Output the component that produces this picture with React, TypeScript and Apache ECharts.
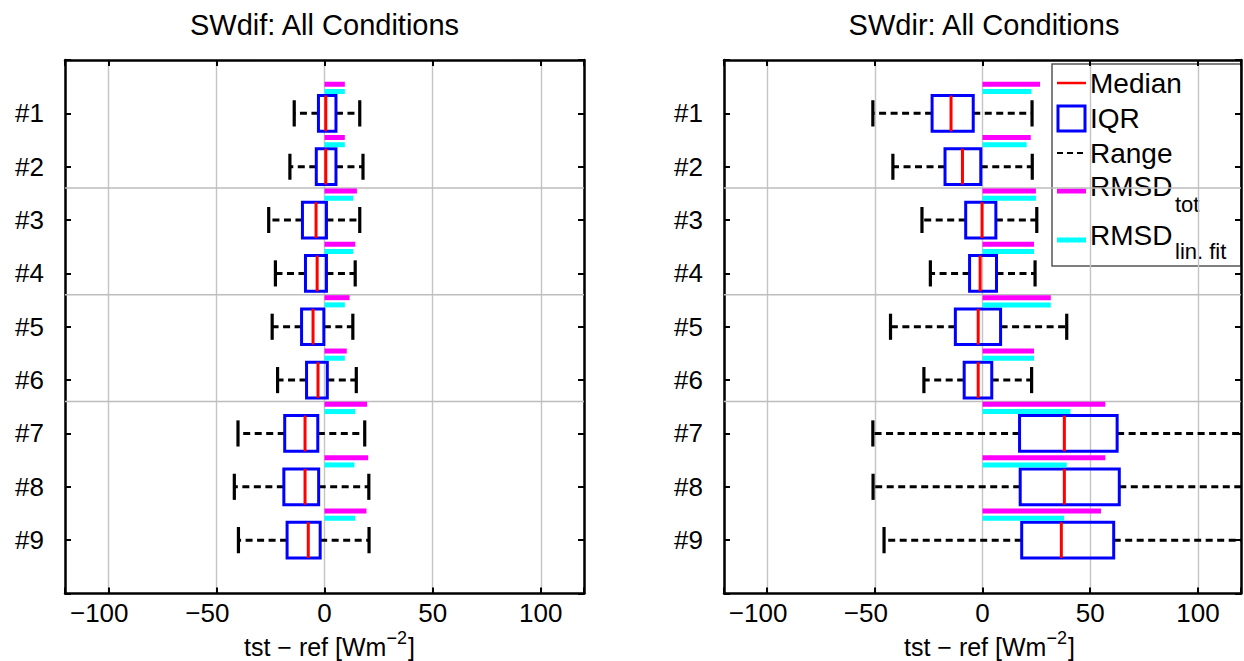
import React, { useEffect, useRef } from 'react';
import * as echarts from 'echarts';

// ---------- data ----------
const rowLabels = ['#1', '#2', '#3', '#4', '#5', '#6', '#7', '#8', '#9'];
const groupSeparators = [2.4, 4.4, 6.4];
const panelTitles = ['SWdif: All Conditions', 'SWdir: All Conditions'];

// SWdif panel
const difMin = [-14, -16, -25.8, -22.7, -24.2, -21.7, -40, -41.7, -39.8];
const difQ1 = [-2.8, -3.8, -10.2, -8.8, -10.6, -8.3, -18.4, -18.8, -17.3];
const difMedian = [0.6, 0.6, -3.9, -3.4, -5.3, -3, -9, -9, -7.5];
const difQ3 = [5.3, 5.3, 0.9, 0.9, -0.3, 1.3, -3.1, -2.7, -2];
const difMax = [16.3, 17.8, 16.3, 14.2, 13.1, 14.7, 18.6, 20.5, 20.6];
const difRmsdTot = [9.4, 9.4, 15, 14.2, 11.6, 10.3, 19.7, 20.2, 19.4];
const difRmsdLin = [9.4, 9.4, 13.3, 13.3, 9.4, 9.4, 14.2, 13.8, 14.2];

// SWdir panel
const dirMin = [-50.9, -41.6, -28.1, -24.2, -42.7, -27.2, -50.9, -50.8, -45.7];
const dirQ1 = [-23.4, -17.4, -7.8, -6, -12.6, -8.5, 17.2, 17.5, 18.2];
const dirMedian = [-14.6, -9.3, -0.2, -1.1, -2, -2, 38, 38, 36.6];
const dirQ3 = [-4.3, -0.8, 6.2, 6.5, 8.4, 4.3, 62.5, 63.5, 60.9];
const dirMax = [23, 23.1, 25.2, 24.4, 39.1, 22.8, 140, 140, 140];
const dirRmsdTot = [26.7, 22.4, 24.8, 23.9, 31.7, 23.9, 57, 57, 55];
const dirRmsdLin = [22.7, 20.5, 24.8, 23.9, 31.7, 23.9, 40.8, 39.1, 37.9];

const FONT = 'Liberation Sans, Arial, Helvetica, sans-serif';

function buildRows(mn: number[], q1: number[], md: number[], q3: number[], mx: number[], tot: number[], lin: number[]) {
  return rowLabels.map((_, i) => [i + 1, mn[i], q1[i], md[i], q3[i], mx[i], tot[i], lin[i]]);
}

function renderBox(params: any, api: any) {
  const y = api.value(0);
  const vMin = api.value(1);
  const vQ1 = api.value(2);
  const vMed = api.value(3);
  const vQ3 = api.value(4);
  const vMax = api.value(5);
  const vTot = api.value(6);
  const vLin = api.value(7);
  const unit = api.size([0, 1])[1];
  const cy = api.coord([0, y])[1];
  const x0 = api.coord([0, y])[0];
  const xMin = api.coord([vMin, y])[0];
  const xQ1 = api.coord([vQ1, y])[0];
  const xMed = api.coord([vMed, y])[0];
  const xQ3 = api.coord([vQ3, y])[0];
  const xMax = api.coord([vMax, y])[0];
  const xTot = api.coord([vTot, y])[0];
  const xLin = api.coord([vLin, y])[0];
  const boxH = unit * 0.335;
  const capH = unit * 0.245;
  const whisker = { stroke: '#000', lineWidth: 3, lineDash: [7, 4.5], fill: null };
  const cap = { stroke: '#000', lineWidth: 3.2, fill: null };
  return {
    type: 'group',
    children: [
      { type: 'line', shape: { x1: xQ1, y1: cy, x2: xMin, y2: cy }, style: whisker },
      { type: 'line', shape: { x1: xQ3, y1: cy, x2: xMax, y2: cy }, style: whisker },
      { type: 'line', shape: { x1: xMin, y1: cy - capH, x2: xMin, y2: cy + capH }, style: cap },
      { type: 'line', shape: { x1: xMax, y1: cy - capH, x2: xMax, y2: cy + capH }, style: cap },
      {
        type: 'rect',
        shape: { x: xQ1, y: cy - boxH, width: xQ3 - xQ1, height: 2 * boxH },
        style: { fill: 'none', stroke: '#0000ff', lineWidth: 3 },
      },
      { type: 'line', shape: { x1: xMed, y1: cy - boxH, x2: xMed, y2: cy + boxH }, style: { stroke: '#ff0000', lineWidth: 3 } },
      {
        type: 'rect',
        shape: { x: x0, y: cy - unit * 0.545 - 2.5, width: xTot - x0, height: 5 },
        style: { fill: '#ff00ff' },
      },
      {
        type: 'rect',
        shape: { x: x0, y: cy - unit * 0.41 - 2.5, width: xLin - x0, height: 5 },
        style: { fill: '#00ffff' },
      },
    ],
  };
}

function renderSeparator(params: any, api: any) {
  const cs = params.coordSys;
  const y = api.coord([0, api.value(1)])[1];
  return {
    type: 'line',
    shape: { x1: cs.x, y1: y, x2: cs.x + cs.width, y2: y },
    style: { stroke: '#bdbdbd', lineWidth: 1.5 },
  };
}

const axisLine = { show: true, onZero: false, lineStyle: { color: '#000', width: 2.5 } };
const axisTick = { show: true, inside: true, length: 6, lineStyle: { color: '#000', width: 2 } };

function xLabelFormatter(v: number) {
  if (Math.abs(v % 50) > 1e-9 || Math.abs(v) > 110) return '';
  if (v < 0) return '{neg|\u2212' + Math.abs(v) + '}';
  return '{pos|' + v + '}';
}

function makeXAxes(gridIndex: number) {
  return [
    {
      type: 'value',
      gridIndex,
      position: 'bottom',
      min: -120,
      max: 120,
      axisLine,
      axisTick,
      axisLabel: {
        show: true,
        margin: 6,
        formatter: xLabelFormatter,
        rich: {
          neg: { fontSize: 26, fontFamily: FONT, color: '#000', padding: [0, 18, 0, 0] },
          pos: { fontSize: 26, fontFamily: FONT, color: '#000' },
        },
      },
      splitLine: { show: true, lineStyle: { color: '#c4c4c4', width: 1.4 } },
    },
    {
      type: 'value',
      gridIndex,
      position: 'top',
      min: -120,
      max: 120,
      axisLine,
      axisTick,
      axisLabel: { show: false },
      splitLine: { show: false },
    },
  ];
}

function makeYAxes(gridIndex: number) {
  return [
    {
      type: 'value',
      gridIndex,
      position: 'left',
      min: 0,
      max: 10,
      interval: 1,
      inverse: true,
      axisLine,
      axisTick,
      axisLabel: {
        show: true,
        margin: 21,
        fontSize: 26,
        fontFamily: FONT,
        color: '#000',
        formatter: (v: number) => (v >= 1 && v <= 9 ? rowLabels[v - 1] : ''),
      },
      splitLine: { show: false },
    },
    {
      type: 'value',
      gridIndex,
      position: 'right',
      min: 0,
      max: 10,
      interval: 1,
      inverse: true,
      axisLine,
      axisTick,
      axisLabel: { show: false },
      splitLine: { show: false },
    },
  ];
}

function axisNameTexts(startX: number) {
  return [
    { type: 'text', x: startX, y: 647, style: { text: 'tst \u2212 ref [Wm', fontSize: 25, fontFamily: FONT, fill: '#000', align: 'left', verticalAlign: 'middle' } },
    { type: 'text', x: startX + 142.5, y: 638, style: { text: '\u22122', fontSize: 18, fontFamily: FONT, fill: '#000', align: 'left', verticalAlign: 'middle' } },
    { type: 'text', x: startX + 164, y: 647, style: { text: ']', fontSize: 25, fontFamily: FONT, fill: '#000', align: 'left', verticalAlign: 'middle' } },
  ];
}

function legendElements() {
  const lx1 = 1057;
  const lx2 = 1086;
  const tx = 1090;
  const txt = (text: string, y: number, size = 28, x = tx) => ({
    type: 'text',
    x,
    y,
    style: { text, fontSize: size, fontFamily: FONT, fill: '#000', align: 'left', verticalAlign: 'middle' },
  });
  return [
    { type: 'rect', shape: { x: 1052, y: 64, width: 189, height: 202 }, style: { fill: '#fff', stroke: '#555', lineWidth: 1.5 } },
    { type: 'line', shape: { x1: lx1, y1: 83, x2: lx2, y2: 83 }, style: { stroke: '#ff0000', lineWidth: 2.5 } },
    txt('Median', 83),
    { type: 'rect', shape: { x: 1058, y: 106, width: 27, height: 25 }, style: { fill: 'none', stroke: '#0000ff', lineWidth: 3 } },
    txt('IQR', 118),
    { type: 'line', shape: { x1: lx1, y1: 153, x2: lx2, y2: 153 }, style: { stroke: '#000', lineWidth: 2, lineDash: [6, 4] } },
    txt('Range', 153),
    { type: 'line', shape: { x1: lx1, y1: 191, x2: lx2, y2: 191 }, style: { stroke: '#ff00ff', lineWidth: 5 } },
    txt('RMSD', 186),
    txt('tot', 204, 22, 1175),
    { type: 'line', shape: { x1: lx1, y1: 240, x2: lx2, y2: 240 }, style: { stroke: '#00ffff', lineWidth: 5 } },
    txt('RMSD', 235),
    txt('lin. fit', 251, 22, 1175),
  ];
}

export default function App() {
  const ref = useRef<HTMLDivElement>(null);
  useEffect(() => {
    document.body.style.margin = '0';
    if (!ref.current) return;
    const chart = echarts.init(ref.current, null, { renderer: 'svg' });
    const difRows = buildRows(difMin, difQ1, difMedian, difQ3, difMax, difRmsdTot, difRmsdLin);
    const dirRows = buildRows(dirMin, dirQ1, dirMedian, dirQ3, dirMax, dirRmsdTot, dirRmsdLin);
    const sepData = groupSeparators.map((v) => [0, v]);
    const option: any = {
      animation: false,
      backgroundColor: '#fff',
      grid: [
        { left: 65, top: 60, width: 519, height: 533.5 },
        { left: 724, top: 60, width: 518, height: 533.5 },
      ],
      xAxis: [...makeXAxes(0), ...makeXAxes(1)],
      yAxis: [...makeYAxes(0), ...makeYAxes(1)],
      series: [
        { type: 'custom', name: 'sep0', xAxisIndex: 0, yAxisIndex: 0, data: sepData, encode: { x: 0, y: 1 }, renderItem: renderSeparator, silent: true, z: 1 },
        { type: 'custom', name: 'sep1', xAxisIndex: 2, yAxisIndex: 2, data: sepData, encode: { x: 0, y: 1 }, renderItem: renderSeparator, silent: true, z: 1 },
        { type: 'custom', name: panelTitles[0], xAxisIndex: 0, yAxisIndex: 0, data: difRows, encode: { x: [1, 2, 3, 4, 5], y: 0 }, renderItem: renderBox, clip: true, z: 2 },
        { type: 'custom', name: panelTitles[1], xAxisIndex: 2, yAxisIndex: 2, data: dirRows, encode: { x: [1, 2, 3, 4, 5], y: 0 }, renderItem: renderBox, clip: true, z: 2 },
      ],
      graphic: [
        { type: 'text', x: 324.5, y: 25, style: { text: panelTitles[0], fontSize: 29, fontFamily: FONT, fill: '#000', align: 'center', verticalAlign: 'middle' } },
        { type: 'text', x: 984, y: 25, style: { text: panelTitles[1], fontSize: 29, fontFamily: FONT, fill: '#000', align: 'center', verticalAlign: 'middle' } },
        ...axisNameTexts(244),
        ...axisNameTexts(904),
        ...legendElements(),
      ],
    };
    chart.setOption(option);
    return () => chart.dispose();
  }, []);
  return <div ref={ref} style={{ width: 1244, height: 661 }} />;
}
